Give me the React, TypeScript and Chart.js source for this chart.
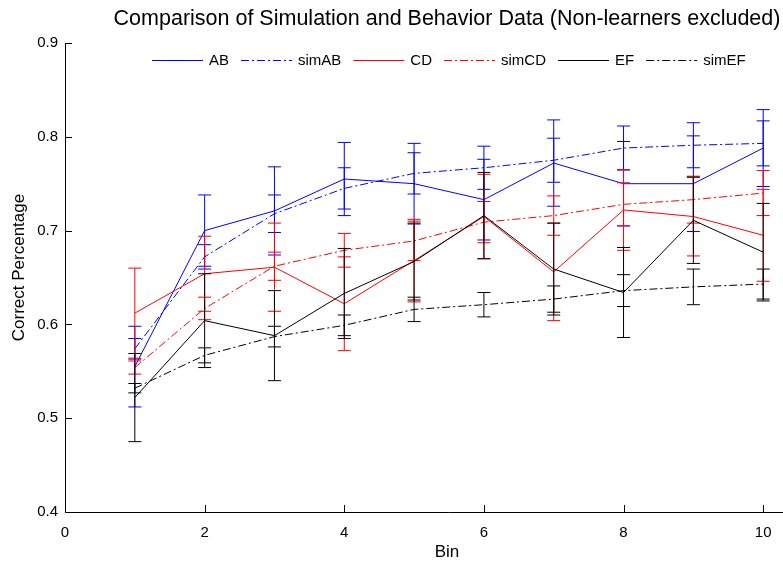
import React, { useEffect, useRef } from "react";
import { Chart, registerables } from "chart.js";

Chart.register(...registerables);

// ---------- data ----------
const bins = [1, 2, 3, 4, 5, 6, 7, 8, 9, 10];

const AB = [0.555, 0.700, 0.721, 0.755, 0.750, 0.733, 0.772, 0.750, 0.750, 0.788];
const AB_err = [0.043, 0.038, 0.047, 0.039, 0.043, 0.043, 0.046, 0.045, 0.051, 0.041];

const simAB = [0.574, 0.672, 0.718, 0.745, 0.761, 0.767, 0.775, 0.788, 0.791, 0.793];
const simAB_err = [0.011, 0.013, 0.020, 0.022, 0.022, 0.023, 0.0235, 0.0235, 0.024, 0.024];

const CD = [0.612, 0.654, 0.661, 0.622, 0.668, 0.715, 0.656, 0.722, 0.715, 0.695];
const CD_err = [0.048, 0.040, 0.047, 0.050, 0.044, 0.045, 0.052, 0.043, 0.042, 0.049];

const simCD = [0.554, 0.617, 0.662, 0.679, 0.689, 0.709, 0.716, 0.728, 0.733, 0.740];
const simCD_err = [0.007, 0.012, 0.015, 0.018, 0.021, 0.022, 0.021, 0.023, 0.025, 0.024];

const EF = [0.522, 0.604, 0.588, 0.633, 0.667, 0.716, 0.659, 0.634, 0.711, 0.677];
const EF_err = [0.047, 0.050, 0.048, 0.048, 0.041, 0.046, 0.049, 0.048, 0.046, 0.052];

const simEF = [0.532, 0.567, 0.587, 0.599, 0.616, 0.621, 0.627, 0.636, 0.640, 0.643];
const simEF_err = [0.005, 0.008, 0.011, 0.011, 0.013, 0.013, 0.014, 0.017, 0.019, 0.016];

const seriesNames = ["AB", "simAB", "CD", "simCD", "EF", "simEF"];
const seriesValues = [AB, simAB, CD, simCD, EF, simEF];
const seriesErrors = [AB_err, simAB_err, CD_err, simCD_err, EF_err, simEF_err];
const seriesColors = ["#0000ff", "#0000ff", "#ff0000", "#ff0000", "#000000", "#000000"];
const seriesDashDot = [false, true, false, true, false, true];

const xTicks = [0, 2, 4, 6, 8, 10];
const yTicks = [0.4, 0.5, 0.6, 0.7, 0.8, 0.9];

const titleText = "Comparison of Simulation and Behavior Data (Non-learners excluded)";
const xLabel = "Bin";
const yLabel = "Correct Percentage";

// ---------- styling ----------
const FONT = '"Liberation Sans", Arial, Helvetica, sans-serif';
const DASHDOT = [8, 3, 2, 3];
const CANVAS_W = 898;
const CANVAS_H = 569;

const errorBarPlugin = {
  id: "errorBars",
  afterDatasetDraw(chart: any, args: any) {
    const i = args.index;
    const errs = seriesErrors[i];
    const vals = seriesValues[i];
    if (!errs) return;
    const { ctx, scales } = chart;
    const xs = scales.x;
    const ys = scales.y;
    ctx.save();
    ctx.strokeStyle = seriesColors[i];
    ctx.lineWidth = 1;
    ctx.setLineDash([]);
    const cap = 6.5;
    bins.forEach((b, j) => {
      const x = xs.getPixelForValue(b);
      const yT = ys.getPixelForValue(vals[j] + errs[j]);
      const yB = ys.getPixelForValue(vals[j] - errs[j]);
      ctx.beginPath();
      ctx.moveTo(x, yT);
      ctx.lineTo(x, yB);
      ctx.moveTo(x - cap, yT);
      ctx.lineTo(x + cap, yT);
      ctx.moveTo(x - cap, yB);
      ctx.lineTo(x + cap, yB);
      ctx.stroke();
    });
    ctx.restore();
  },
};

const decorPlugin = {
  id: "decor",
  afterDraw(chart: any) {
    const { ctx, chartArea: ca, scales } = chart;
    const cx = (ca.left + ca.right) / 2;
    ctx.save();
    ctx.fillStyle = "#000";
    ctx.strokeStyle = "#000";
    ctx.lineWidth = 1;
    ctx.setLineDash([]);

    // inward tick marks
    const tl = 7;
    xTicks.forEach((v) => {
      const x = Math.round(scales.x.getPixelForValue(v)) + 0.5;
      ctx.beginPath();
      ctx.moveTo(x, ca.bottom);
      ctx.lineTo(x, ca.bottom - tl);
      ctx.stroke();
    });
    yTicks.forEach((v) => {
      const y = Math.round(scales.y.getPixelForValue(v)) + 0.5;
      ctx.beginPath();
      ctx.moveTo(ca.left, y);
      ctx.lineTo(ca.left + tl, y);
      ctx.stroke();
    });

    // title
    ctx.font = `21.5px ${FONT}`;
    ctx.textAlign = "center";
    ctx.textBaseline = "middle";
    ctx.fillText(titleText, cx - 2, 19);

    // axis labels
    ctx.font = `17px ${FONT}`;
    ctx.fillText(xLabel, cx - 2, 552);
    ctx.save();
    ctx.translate(19, (ca.top + ca.bottom) / 2 - 10);
    ctx.rotate(-Math.PI / 2);
    ctx.fillText(yLabel, 0, 0);
    ctx.restore();

    // legend
    ctx.font = `15px ${FONT}`;
    ctx.textAlign = "left";
    let x = 152;
    const ly = 60.5;
    const lineLen = 51;
    seriesNames.forEach((name, i) => {
      ctx.strokeStyle = seriesColors[i];
      ctx.setLineDash(seriesDashDot[i] ? DASHDOT : []);
      ctx.beginPath();
      ctx.moveTo(x, ly);
      ctx.lineTo(x + lineLen, ly);
      ctx.stroke();
      ctx.setLineDash([]);
      ctx.fillStyle = "#000";
      const tx = x + lineLen + 6;
      ctx.fillText(name, tx, ly);
      x = tx + ctx.measureText(name).width + 12;
    });
    ctx.restore();
  },
};

export default function App() {
  const canvasRef = useRef<HTMLCanvasElement | null>(null);

  useEffect(() => {
    if (!canvasRef.current) return;
    const chart = new Chart(canvasRef.current, {
      type: "line",
      data: {
        datasets: seriesNames.map((name, i) => ({
          label: name,
          data: bins.map((b, j) => ({ x: b, y: seriesValues[i][j] })),
          borderColor: seriesColors[i],
          backgroundColor: seriesColors[i],
          borderWidth: 1,
          borderDash: seriesDashDot[i] ? DASHDOT : [],
          pointRadius: 0,
          pointHoverRadius: 0,
          fill: false,
          tension: 0,
          order: 10 - i,
        })),
      },
      options: {
        responsive: false,
        animation: false,
        devicePixelRatio: 1,
        layout: { padding: { top: 43, right: 65, left: 0, bottom: 0 } },
        plugins: {
          legend: { display: false },
          title: { display: false },
          tooltip: { enabled: false },
        },
        scales: {
          x: {
            type: "linear",
            min: 0,
            max: 11,
            afterFit: (s: any) => {
              s.height = 57;
            },
            afterBuildTicks: (s: any) => {
              s.ticks = xTicks.map((v) => ({ value: v }));
            },
            grid: { display: true, drawOnChartArea: false, drawTicks: false },
            border: { display: true, color: "#000", width: 1 },
            ticks: {
              padding: 12,
              color: "#000",
              font: { family: FONT, size: 15 },
              maxRotation: 0,
              autoSkip: false,
              callback: (v: any) => String(v),
            },
          },
          y: {
            type: "linear",
            min: 0.4,
            max: 0.9,
            afterFit: (s: any) => {
              s.width = 65;
            },
            afterBuildTicks: (s: any) => {
              s.ticks = yTicks.map((v) => ({ value: v }));
            },
            grid: { display: true, drawOnChartArea: false, drawTicks: false },
            border: { display: true, color: "#000", width: 1 },
            ticks: {
              padding: 7,
              color: "#000",
              font: { family: FONT, size: 15 },
              autoSkip: false,
              callback: (v: any) => Number(v).toFixed(1),
            },
          },
        },
      },
      plugins: [errorBarPlugin, decorPlugin],
    } as any);
    return () => chart.destroy();
  }, []);

  return (
    <div
      style={{
        position: "fixed",
        left: 0,
        top: 0,
        width: 783,
        height: 569,
        overflow: "hidden",
        background: "#fff",
      }}
    >
      <canvas
        ref={canvasRef}
        width={CANVAS_W}
        height={CANVAS_H}
        style={{ display: "block", width: CANVAS_W, height: CANVAS_H }}
      />
    </div>
  );
}
